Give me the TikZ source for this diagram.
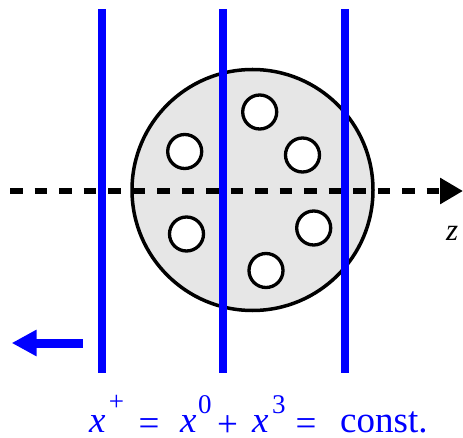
\documentclass[tikz,border=0pt]{standalone}
\usepackage{fontspec}
\setmainfont{Liberation Serif}
\usetikzlibrary{arrows.meta}
\definecolor{ballgray}{RGB}{230,230,230}
\definecolor{pureblue}{RGB}{0,0,255}
\begin{document}
\begin{tikzpicture}[x=1pt,y=-1pt,
  hole/.style={circle,draw=black,line width=3.3pt,fill=white,minimum size=34pt,inner sep=0pt},
  front/.style={draw=pureblue,line width=8pt},
  lbl/.style={inner sep=0pt,text=pureblue,font=\fontsize{37}{40}\selectfont},
  sup/.style={inner sep=0pt,text=pureblue,font=\fontsize{27}{30}\selectfont}]
\useasboundingbox (0,0) rectangle (463,438);
% big disk
\node[circle,draw=black,line width=3.5pt,fill=ballgray,minimum size=241pt,inner sep=0pt] (disk) at (252.5,190) {};
% holes
\node[hole] (h1) at (259.7,112) {};
\node[hole] (h2) at (184.7,151.5) {};
\node[hole] (h3) at (302.5,155) {};
\node[hole] (h4) at (186.5,234) {};
\node[hole] (h5) at (313.7,228) {};
\node[hole] (h6) at (266,270.5) {};
% dashed z axis
\coordinate (zs) at (10,191);
\coordinate (ze) at (463,191);
\draw[line width=6pt,dash pattern=on 12.5pt off 12pt,-{Triangle[length=23pt,width=25pt]}] (zs) -- (ze);
\node[inner sep=0pt,anchor=base west,font=\fontsize{31}{34}\selectfont\itshape] (zl) at (446,241) {z};
% blue fronts
\coordinate (a1) at (101.7,9.3); \coordinate (b1) at (101.7,373.3);
\coordinate (a2) at (223,9.3);   \coordinate (b2) at (223,373.3);
\coordinate (a3) at (344.7,9.3); \coordinate (b3) at (344.7,373.3);
\draw[front] (a1) -- (b1);
\draw[front] (a2) -- (b2);
\draw[front] (a3) -- (b3);
% motion arrow
\coordinate (ms) at (82.7,343);
\coordinate (me) at (11.7,343);
\draw[draw=pureblue,line width=9pt,-{Triangle[length=25pt,width=25pt]}] (ms) -- (me);
% label
\node[lbl,anchor=base west,font=\fontsize{37}{40}\selectfont\itshape] (t1) at (89,432.5) {x};
\node[sup,anchor=center] (t2) at (116.5,403) {+};
\node[lbl,anchor=center] (t3) at (149,427.5) {=};
\node[lbl,anchor=base west,font=\fontsize{37}{40}\selectfont\itshape] (t4) at (180,432.5) {x};
\node[sup,anchor=base west] (t5) at (198,413) {0};
\node[lbl,anchor=center] (t6) at (227.5,426) {+};
\node[lbl,anchor=base west,font=\fontsize{37}{40}\selectfont\itshape] (t7) at (252,432.5) {x};
\node[sup,anchor=base west] (t8) at (272,413) {3};
\node[lbl,anchor=center] (t9) at (306,427.5) {=};
\node[lbl,anchor=base west] (t10) at (340,432.5) {const.};
\end{tikzpicture}
\end{document}
